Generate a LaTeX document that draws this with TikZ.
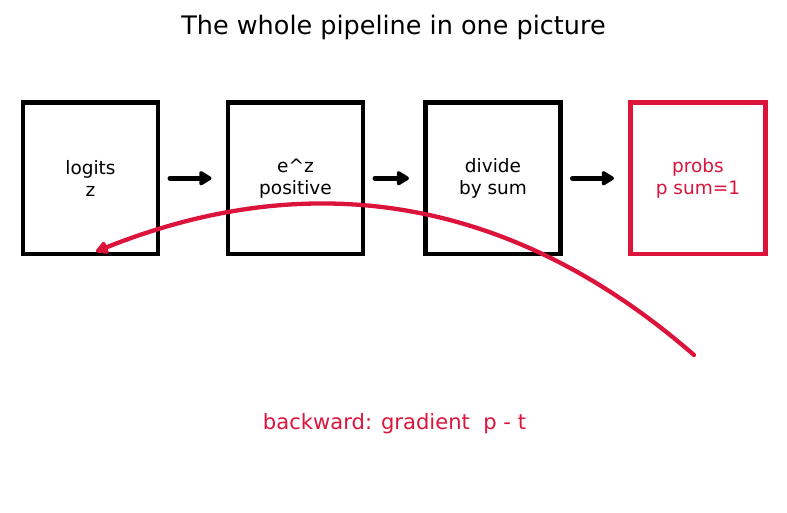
\documentclass[tikz,border=0pt]{standalone}
\usepackage{fontspec}
\setmainfont{DejaVu Sans}
\usetikzlibrary{arrows.meta}
\definecolor{crim}{HTML}{DC143C}
\tikzset{
  box/.style={draw, line width=4.5pt, minimum width=135pt, minimum height=151.5pt,
    outer sep=0pt, inner sep=0pt, align=center, font=\fontsize{18.5}{22}\selectfont},
  flow/.style={line width=5pt, line cap=round, -{Triangle[length=14pt,width=16pt,round]},
    shorten <=12pt, shorten >=16.5pt},
  back/.style={crim, line width=4.3pt, line cap=round, -{Triangle[length=14pt,width=14pt,round]}}
}
\begin{document}
\begin{tikzpicture}[x=1pt,y=-1pt]
\useasboundingbox (0,0) rectangle (787,512);
\node[font=\fontsize{25.5}{30}\selectfont] (title) at (393.5,27.5) {The whole pipeline in one picture};
\node[box] (b1) at (90.5,178.25) {logits\\z};
\node[box] (b2) at (295.5,178.25) {e\^{}z\\positive};
\node[box] (b3) at (493,178.25) {divide\\by sum};
\node[box, draw=crim, text=crim] (b4) at (698,178.25) {probs\\p sum=1};
\draw[flow] (b1.east) -- (b2.west);
\draw[flow] (b2.east) -- (b3.west);
\draw[flow] (b3.east) -- (b4.west);
\coordinate (gs) at (694,355);
\draw[back] (gs) .. controls (515,199) and (315,164) .. ([xshift=5.5pt,yshift=2.5pt]b1.south);
\node[crim, font=\fontsize{21.1}{25}\selectfont] (lbl) at (394.5,423.5) {backward: gradient\ \ p - t};
\end{tikzpicture}
\end{document}
